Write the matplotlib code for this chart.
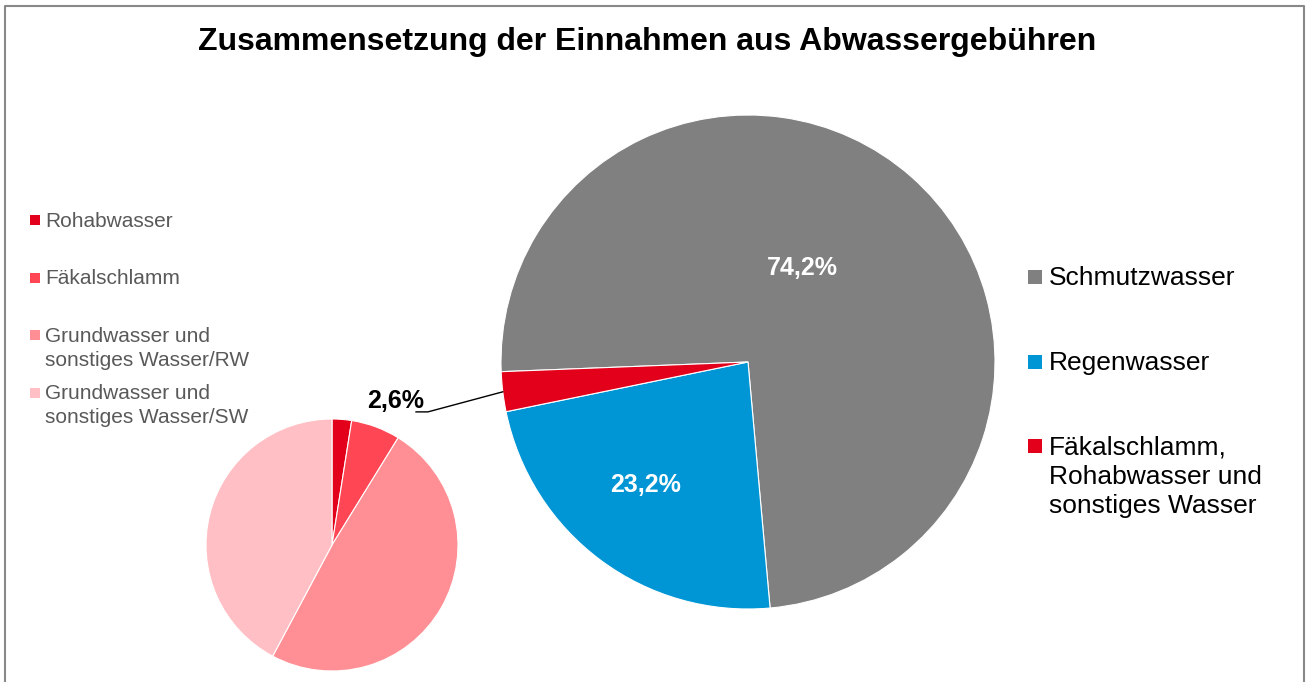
import matplotlib
matplotlib.use('Agg')
import numpy as np
import matplotlib.pyplot as plt
from matplotlib.patches import Rectangle
from matplotlib.lines import Line2D

plt.rcParams['font.family'] = ['Liberation Sans', 'DejaVu Sans']

# main pie
main_labels = ['Schmutzwasser', 'Regenwasser',
               'Fäkalschlamm,\nRohabwasser und\nsonstiges Wasser']
main_values = [74.2, 23.2, 2.6]
main_colors = ['#808080', '#0096D6', '#E2001A']

# breakdown of the small red slice
detail_labels = ['Rohabwasser', 'Fäkalschlamm',
                 'Grundwasser und\nsonstiges Wasser/RW',
                 'Grundwasser und\nsonstiges Wasser/SW']
detail_values = [2.5, 6.3, 49.0, 42.2]
detail_colors = ['#E2001A', '#FF4654', '#FF8F94', '#FFBFC4']

W, H = 1308, 682
fig = plt.figure(figsize=(W / 100, H / 100), dpi=100)


def px_box(cx, cy, r):
    # axes rect (figure fraction) for a pie of radius r px centred at cx, cy (top-down px)
    return [(cx - r) / W, 1 - (cy + r) / H, 2 * r / W, 2 * r / H]


def fmt(v):
    return f'{v:.1f}%'.replace('.', ',')


# big pie
ax_main = fig.add_axes(px_box(748, 362, 247))
wedges, _ = ax_main.pie(main_values, colors=main_colors, startangle=182.25,
                        counterclock=False,
                        wedgeprops=dict(edgecolor='white', linewidth=0.8))
ax_main.set_xlim(-1, 1)
ax_main.set_ylim(-1, 1)
for w in wedges:
    w.set_clip_on(False)

label_pos = [(0.219, 0.381), (-0.413, -0.498)]
for (x, y), v in zip(label_pos, main_values[:2]):
    ax_main.text(x, y, fmt(v), color='white', fontsize=18, fontweight='bold',
                 ha='center', va='center')

# leader line for the small slice
red = wedges[2]
mid = np.deg2rad((red.theta1 + red.theta2) / 2)
ax_main.plot([-1.344, -1.296, np.cos(mid)], [-0.202, -0.202, np.sin(mid)],
             color='black', lw=1, clip_on=False)
ax_main.text(-1.312, -0.188, fmt(main_values[2]), color='black', fontsize=18,
             fontweight='bold', ha='right', va='baseline')

# small pie
ax_det = fig.add_axes(px_box(332, 545, 126))
dw, _ = ax_det.pie(detail_values, colors=detail_colors, startangle=90,
                   counterclock=False,
                   wedgeprops=dict(edgecolor='white', linewidth=0.8))
ax_det.set_xlim(-1, 1)
ax_det.set_ylim(-1, 1)
for w in dw:
    w.set_clip_on(False)


# legends drawn by hand (Excel spacing is irregular)
def legend(labels, colors, baselines, mx, ms, tx, fs, tcolor, pitch):
    for lab, c, b in zip(labels, colors, baselines):
        fig.add_artist(Rectangle((mx / W, 1 - (b - 1.4) / H), ms / W, ms / H,
                                 transform=fig.transFigure, facecolor=c,
                                 edgecolor='none'))
        for i, line in enumerate(lab.split('\n')):
            fig.text(tx / W, 1 - (b + i * pitch) / H, line, fontsize=fs,
                     color=tcolor, ha='left', va='baseline')


legend(detail_labels, detail_colors, [226.7, 284.3, 341.7, 399],
       30, 10, 45, 15, '#595959', 24)
legend(main_labels, main_colors, [285, 370, 454],
       1028, 13.5, 1049, 19, 'black', 29.5)

# title
fig.text(647 / W, 1 - 50 / H, 'Zusammensetzung der Einnahmen aus Abwassergebühren',
         fontsize=23, fontweight='bold', ha='center', va='baseline')

# chart frame
fig.add_artist(Line2D([5 / W, 5 / W, 1304 / W, 1304 / W],
                      [0, 1 - 6 / H, 1 - 6 / H, 0],
                      color='#888888', lw=1.5, transform=fig.transFigure))

fig.savefig('out.png', dpi=100)
